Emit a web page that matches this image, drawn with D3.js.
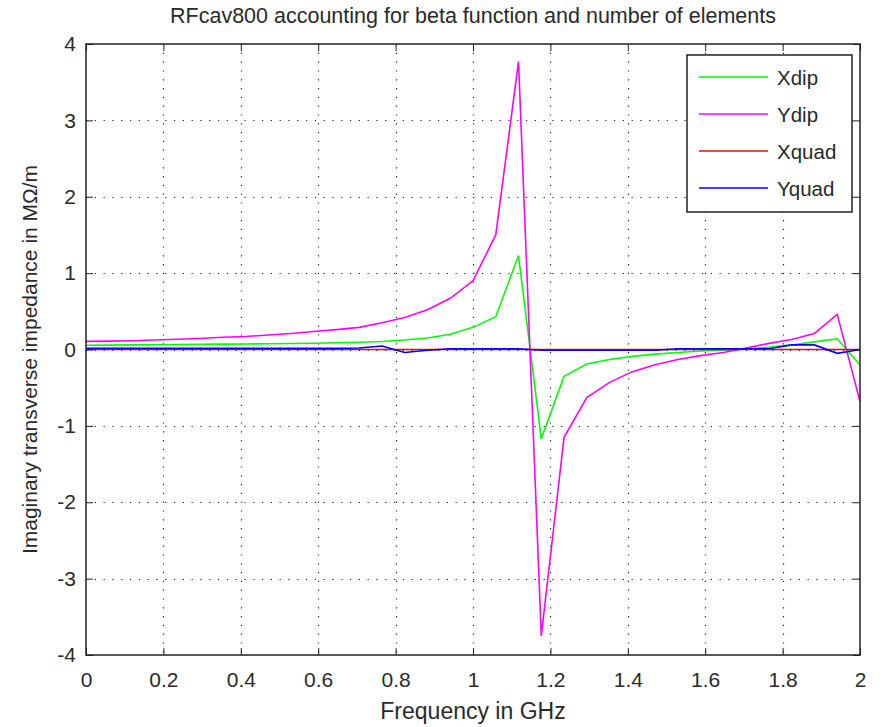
<!DOCTYPE html>
<html>
<head>
<meta charset="utf-8">
<script src="https://cdn.jsdelivr.net/npm/d3@7"></script>
<style>
  body { margin: 0; background: #fff; }
  svg text { font-family: "Liberation Sans", Arial, sans-serif; fill: #2a2a2a; }
</style>
</head>
<body>
<div id="chart"></div>
<script>
// sample frequencies, GHz (35 points, step 2/34)
const freq = d3.range(35).map((k) => (k * 2) / 34);

const xdip = [0.055, 0.057, 0.06, 0.062, 0.065, 0.068, 0.07, 0.072, 0.075, 0.078,
  0.082, 0.088, 0.095, 0.105, 0.125, 0.15, 0.2, 0.29, 0.43, 1.23,
  -1.17, -0.35, -0.19, -0.13, -0.09, -0.06, -0.04, -0.02, -0.01, 0.01,
  0.03, 0.06, 0.1, 0.14, -0.2];
const ydip = [0.107, 0.11, 0.115, 0.125, 0.135, 0.145, 0.16, 0.17, 0.19, 0.21,
  0.235, 0.26, 0.29, 0.35, 0.42, 0.52, 0.67, 0.9, 1.5, 3.77,
  -3.75, -1.15, -0.63, -0.43, -0.29, -0.2, -0.13, -0.08, -0.04, 0.02,
  0.08, 0.13, 0.21, 0.46, -0.68];
const xquad = freq.map(() => 0);
const yquad = [0.015, 0.015, 0.015, 0.015, 0.015, 0.015, 0.015, 0.015, 0.015, 0.015,
  0.015, 0.015, 0.02, 0.045, -0.04, -0.01, 0.01, 0.01, 0.01, 0.01,
  -0.01, -0.01, -0.01, -0.01, -0.01, -0.01, 0.01, 0.01, 0.01, 0.01,
  0.01, 0.06, 0.06, -0.05, 0];

const seriesNames = ["Xdip", "Ydip", "Xquad", "Yquad"];
const seriesColors = ["#00ff00", "#ff00ff", "#ff0000", "#0000ff"];
const seriesValues = [xdip, ydip, xquad, yquad];

const xTicks = [0, 0.2, 0.4, 0.6, 0.8, 1, 1.2, 1.4, 1.6, 1.8, 2];
const yTicks = [-4, -3, -2, -1, 0, 1, 2, 3, 4];

const title = "RFcav800 accounting for beta function and number of elements";
const xLabel = "Frequency in GHz";
const yLabel = "Imaginary transverse impedance in M\u03a9/m";

//size
const width = 883;
const height = 727;
const margin = { top: 44, right: 23, bottom: 72, left: 86 };
const innerWidth = width - margin.left - margin.right;
const innerHeight = height - margin.top - margin.bottom;

//scale
const xScale = d3.scaleLinear().domain([0, 2]).range([0, innerWidth]);
const yScale = d3.scaleLinear().domain([-4, 4]).range([innerHeight, 0]);

const svg = d3
  .select("#chart")
  .append("svg")
  .attr("width", width)
  .attr("height", height);

const g = svg
  .append("g")
  .attr("transform", `translate(${margin.left},${margin.top})`);

//grid
g.selectAll("line.vgrid")
  .data(xTicks.slice(1, -1))
  .join("line")
  .attr("class", "vgrid")
  .attr("x1", (d) => Math.round(xScale(d)) + 0.5)
  .attr("x2", (d) => Math.round(xScale(d)) + 0.5)
  .attr("y1", 0)
  .attr("y2", innerHeight)
  .attr("stroke", "#222")
  .attr("stroke-width", 1.2)
  .attr("stroke-dasharray", "1.2,7.6");

g.selectAll("line.hgrid")
  .data(yTicks.slice(1, -1))
  .join("line")
  .attr("class", "hgrid")
  .attr("y1", (d) => Math.round(yScale(d)) + 0.5)
  .attr("y2", (d) => Math.round(yScale(d)) + 0.5)
  .attr("x1", 0)
  .attr("x2", innerWidth)
  .attr("stroke", "#222")
  .attr("stroke-width", 1.2)
  .attr("stroke-dasharray", "1.2,7.6");

//lines
const line = d3
  .line()
  .x((d) => xScale(d[0]))
  .y((d) => yScale(d[1]));

seriesValues.forEach((vals, i) => {
  g.append("path")
    .datum(freq.map((f, j) => [f, vals[j]]))
    .attr("fill", "none")
    .attr("stroke", seriesColors[i])
    .attr("stroke-width", 1.6)
    .attr("d", line);
});

//axes
const tickFmt = (d) => (d === 0 ? "0" : d3.format("~g")(d)).replace("\u2212", "-");
const axisStyle = (sel) => {
  sel.select(".domain").remove();
  sel.selectAll(".tick line").attr("stroke", "#222");
  sel.selectAll(".tick text")
    .attr("font-size", 21)
    .style("font-family", "'Liberation Sans', Arial, sans-serif")
    .attr("fill", "#2a2a2a");
};

g.append("g")
  .attr("transform", `translate(0,${innerHeight})`)
  .call(d3.axisBottom(xScale).tickValues(xTicks).tickSize(-7).tickPadding(17).tickFormat(tickFmt))
  .call(axisStyle);
g.append("g")
  .call(d3.axisTop(xScale).tickValues(xTicks).tickSize(-7).tickFormat(""))
  .call(axisStyle)
  .call((s) => s.selectAll(".tick text").remove());
g.append("g")
  .call(d3.axisLeft(yScale).tickValues(yTicks).tickSize(-7).tickPadding(10).tickFormat(tickFmt))
  .call(axisStyle);
g.append("g")
  .attr("transform", `translate(${innerWidth},0)`)
  .call(d3.axisRight(yScale).tickValues(yTicks).tickSize(-7).tickFormat(""))
  .call(axisStyle)
  .call((s) => s.selectAll(".tick text").remove());

g.append("rect")
  .attr("width", innerWidth)
  .attr("height", innerHeight)
  .attr("fill", "none")
  .attr("stroke", "#222")
  .attr("stroke-width", 1.5);

//labels
svg.append("text")
  .attr("x", margin.left + innerWidth / 2)
  .attr("y", 23)
  .attr("text-anchor", "middle")
  .attr("font-size", 21.5)
  .text(title);

svg.append("text")
  .attr("x", margin.left + innerWidth / 2)
  .attr("y", 719)
  .attr("text-anchor", "middle")
  .attr("font-size", 23)
  .text(xLabel);

svg.append("text")
  .attr("transform", `translate(37,${margin.top + innerHeight / 2 + 10}) rotate(-90)`)
  .attr("text-anchor", "middle")
  .attr("font-size", 21)
  .text(yLabel);

//legend
const legend = svg.append("g").attr("transform", "translate(687,55)");
legend.append("rect")
  .attr("width", 165)
  .attr("height", 157)
  .attr("fill", "#fff")
  .attr("stroke", "#222")
  .attr("stroke-width", 1.5);

const item = legend
  .selectAll("g.legend-item")
  .data(seriesNames)
  .join("g")
  .attr("class", "legend-item")
  .attr("transform", (d, i) => `translate(0,${22 + i * 37})`);

item.append("line")
  .attr("x1", 12)
  .attr("x2", 81)
  .attr("stroke", (d, i) => seriesColors[i])
  .attr("stroke-width", 1.6);

item.append("text")
  .attr("x", 90)
  .attr("y", 8)
  .attr("font-size", 20.5)
  .text((d) => d);
</script>
</body>
</html>
